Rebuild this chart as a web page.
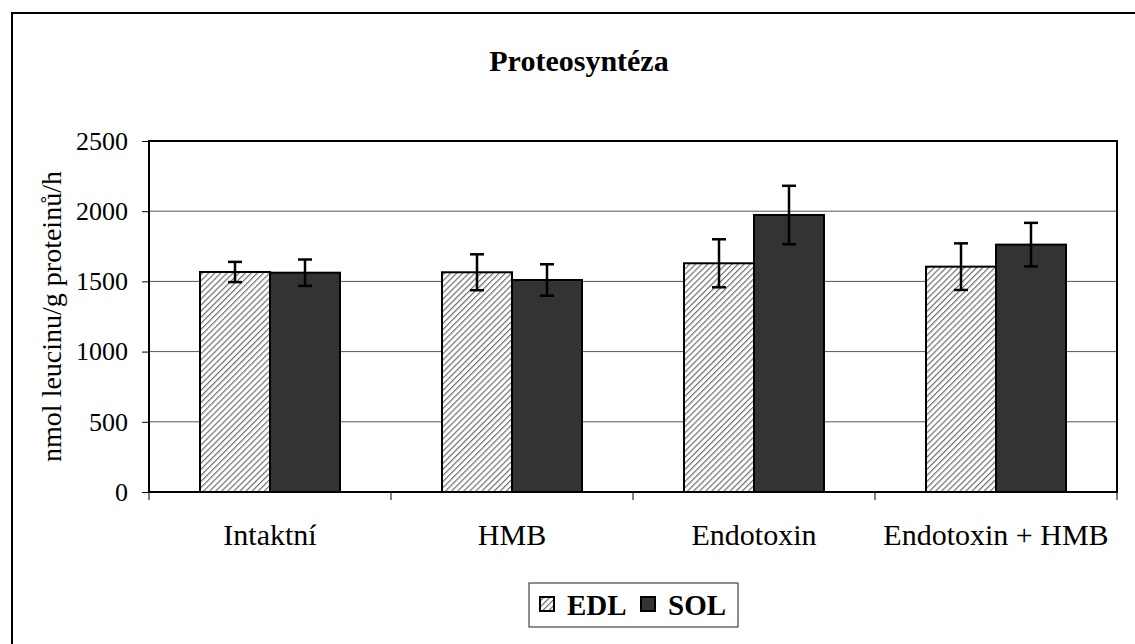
<!DOCTYPE html>
<html>
<head>
<meta charset="utf-8">
<script src="https://cdn.jsdelivr.net/npm/d3@7"></script>
<style>
  body { margin: 0; background: #fff; }
  text { font-family: "Liberation Serif", "Times New Roman", serif; fill: #000; }
</style>
</head>
<body>
<div id="chart"></div>
<script>
const categories = ["Intaktní", "HMB", "Endotoxin", "Endotoxin + HMB"];
const seriesNames = ["EDL", "SOL"];
const edlValues = [1567, 1565, 1629, 1605];
const edlErrors = [72, 128, 171, 166];
const solValues = [1562, 1510, 1973, 1762];
const solErrors = [94, 112, 208, 155];
const yTicks = [0, 500, 1000, 1500, 2000, 2500];

const width = 1135,
  height = 644,
  margin = { top: 141, right: 18, bottom: 152, left: 149 },
  chartWidth = width - margin.left - margin.right,
  chartHeight = height - margin.top - margin.bottom;

const serif = '"Liberation Serif", "Times New Roman", serif';

const data = categories.map((c, i) => ({
  category: c,
  values: [
    { key: "EDL", value: edlValues[i], err: edlErrors[i] },
    { key: "SOL", value: solValues[i], err: solErrors[i] }
  ]
}));

const svg = d3
  .select("#chart")
  .append("svg")
  .attr("width", width)
  .attr("height", height);

const defs = svg.append("defs");
const hatch = defs
  .append("pattern")
  .attr("id", "hatch")
  .attr("patternUnits", "userSpaceOnUse")
  .attr("width", 4.3)
  .attr("height", 4.3)
  .attr("patternTransform", "rotate(45)");
hatch.append("rect").attr("width", 4.3).attr("height", 4.3).attr("fill", "#fff");
hatch
  .append("line")
  .attr("x1", 0)
  .attr("y1", 0)
  .attr("x2", 0)
  .attr("y2", 4.3)
  .attr("stroke", "#707070")
  .attr("stroke-width", 2.4);

const fills = { EDL: "url(#hatch)", SOL: "#333333" };

// outer frame (runs off the page at right / bottom)
svg
  .append("rect")
  .attr("x", 12)
  .attr("y", 13)
  .attr("width", 1150)
  .attr("height", 660)
  .attr("fill", "none")
  .attr("stroke", "#000")
  .attr("stroke-width", 2);

svg
  .append("text")
  .attr("x", 579)
  .attr("y", 71)
  .attr("text-anchor", "middle")
  .style("font-family", serif)
  .style("font-size", "30px")
  .style("font-weight", "bold")
  .text("Proteosyntéza");

const chart = svg
  .append("g")
  .attr("transform", `translate(${margin.left}, ${margin.top})`);

const xScale = d3
  .scaleBand()
  .domain(categories)
  .range([0, chartWidth]);

const xInner = d3
  .scaleBand()
  .domain(seriesNames)
  .range([0, 140]);

const yScale = d3
  .scaleLinear()
  .domain([0, 2500])
  .range([chartHeight, 0]);

// gridlines
chart
  .append("g")
  .selectAll("line")
  .data(yTicks.filter(d => d > 0 && d < 2500))
  .enter()
  .append("line")
  .attr("x1", 0)
  .attr("x2", chartWidth)
  .attr("y1", d => yScale(d))
  .attr("y2", d => yScale(d))
  .attr("stroke", "#555")
  .attr("stroke-width", 1);

const yAxis = d3
  .axisLeft(yScale)
  .tickValues(yTicks)
  .tickSize(7)
  .tickPadding(14)
  .tickFormat(d3.format("d"));

const yy = chart.append("g").attr("class", "y axis").call(yAxis);
yy.select(".domain").remove();
yy.selectAll("line").attr("stroke", "#000").attr("stroke-width", 1);
yy.selectAll("text")
  .style("font-family", serif)
  .style("font-size", "26px")
  .attr("fill", "#000");

// x ticks at category boundaries
const bounds = categories.map(c => xScale(c)).concat([chartWidth]);
chart
  .append("g")
  .selectAll("line")
  .data(bounds)
  .enter()
  .append("line")
  .attr("x1", d => d)
  .attr("x2", d => d)
  .attr("y1", chartHeight)
  .attr("y2", chartHeight + 8)
  .attr("stroke", "#000")
  .attr("stroke-width", 1);

chart
  .append("g")
  .selectAll("text")
  .data(categories)
  .enter()
  .append("text")
  .attr("x", d => xScale(d) + xScale.bandwidth() / 2)
  .attr("y", chartHeight + 53)
  .attr("text-anchor", "middle")
  .style("font-family", serif)
  .style("font-size", "30px")
  .text(d => d);

const group = chart
  .selectAll(".group")
  .data(data)
  .enter()
  .append("g")
  .attr("class", "group")
  .attr("transform", d => `translate(${xScale(d.category) + (xScale.bandwidth() - 140) / 2}, 0)`);

group
  .selectAll("rect")
  .data(d => d.values)
  .enter()
  .append("rect")
  .attr("x", d => xInner(d.key))
  .attr("width", xInner.bandwidth())
  .attr("y", d => yScale(d.value))
  .attr("height", d => chartHeight - yScale(d.value))
  .attr("fill", d => fills[d.key])
  .attr("stroke", "#000")
  .attr("stroke-width", 2);

const err = group
  .selectAll(".err")
  .data(d => d.values)
  .enter()
  .append("g")
  .attr("class", "err")
  .attr("stroke", "#000")
  .attr("stroke-width", 2.5);

err
  .append("line")
  .attr("x1", d => xInner(d.key) + xInner.bandwidth() / 2)
  .attr("x2", d => xInner(d.key) + xInner.bandwidth() / 2)
  .attr("y1", d => yScale(d.value + d.err))
  .attr("y2", d => yScale(d.value - d.err));

[1, -1].forEach(s => {
  err
    .append("line")
    .attr("x1", d => xInner(d.key) + xInner.bandwidth() / 2 - 7)
    .attr("x2", d => xInner(d.key) + xInner.bandwidth() / 2 + 7)
    .attr("y1", d => yScale(d.value + s * d.err))
    .attr("y2", d => yScale(d.value + s * d.err));
});

// plot area border
chart
  .append("rect")
  .attr("width", chartWidth)
  .attr("height", chartHeight)
  .attr("fill", "none")
  .attr("stroke", "#000")
  .attr("stroke-width", 2);

// y label
svg
  .append("text")
  .attr("transform", `translate(61, ${margin.top + chartHeight / 2}) rotate(-90)`)
  .attr("text-anchor", "middle")
  .style("font-family", serif)
  .style("font-size", "28px")
  .text("nmol leucinu/g proteinů/h");

// legend
const legend = svg.append("g").attr("transform", "translate(529, 583)");
legend
  .append("rect")
  .attr("width", 209)
  .attr("height", 44)
  .attr("fill", "#fff")
  .attr("stroke", "#444")
  .attr("stroke-width", 1.2);

const legendX = [10, 111];
const item = legend
  .selectAll(".item")
  .data(seriesNames)
  .enter()
  .append("g")
  .attr("class", "item")
  .attr("transform", (d, i) => `translate(${legendX[i]}, 0)`);

item
  .append("rect")
  .attr("x", 1)
  .attr("y", 14)
  .attr("width", 14)
  .attr("height", 14)
  .attr("fill", d => fills[d])
  .attr("stroke", "#000")
  .attr("stroke-width", 2);

item
  .append("text")
  .attr("x", 28)
  .attr("y", 32)
  .style("font-family", serif)
  .style("font-size", "29px")
  .style("font-weight", "bold")
  .text(d => d);
</script>
</body>
</html>
